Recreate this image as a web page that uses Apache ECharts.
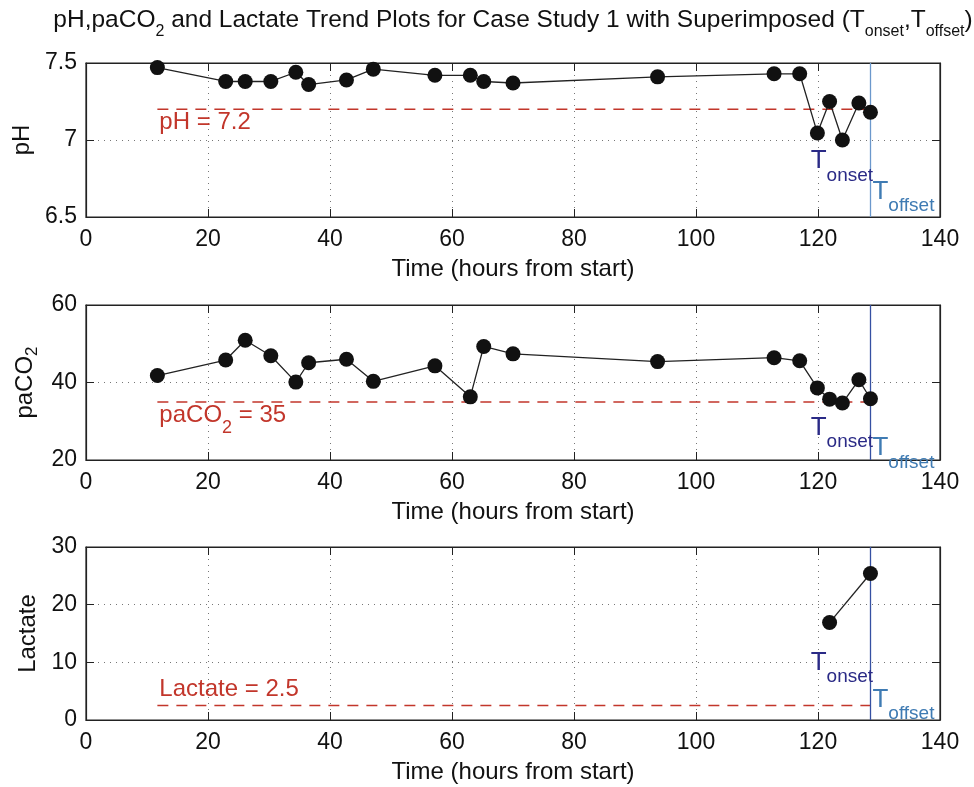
<!DOCTYPE html>
<html>
<head>
<meta charset="utf-8">
<script src="https://cdn.jsdelivr.net/npm/echarts@6/dist/echarts.min.js"></script>
<style>
html,body{margin:0;padding:0;background:#fff;}
#chart{width:974px;height:787px;}
</style>
</head>
<body>
<div id="chart"></div>
<script>
// ---- data ----
const timeHours = [11.7, 22.9, 26.1, 30.3, 34.4, 36.5, 42.7, 47.1, 57.2, 63.0, 65.2, 70.0, 93.7, 112.8, 117.0, 119.9, 121.9, 124.0, 126.7, 128.6];
const pHValues = [7.47, 7.38, 7.38, 7.38, 7.44, 7.36, 7.39, 7.46, 7.42, 7.42, 7.38, 7.37, 7.41, 7.43, 7.43, 7.045, 7.25, 7.0, 7.24, 7.18];
const paCO2Values = [41.8, 45.8, 50.9, 46.9, 40.1, 45.1, 46.0, 40.3, 44.3, 36.3, 49.3, 47.4, 45.4, 46.4, 45.6, 38.6, 35.7, 34.7, 40.7, 35.8];
const lactateTimes = [121.9, 128.6];
const lactateValues = [16.9, 25.4];
const thresholds = { pH: 7.2, paCO2: 35, lactate: 2.5 };
const tOnset = 118.8;
const tOffset = 128.6;
const xTicks = { min: 0, max: 140, interval: 20 };
const yTicksPH = { min: 6.5, max: 7.5, interval: 0.5 };
const yTicksCO2 = { min: 20, max: 60, interval: 20 };
const yTicksLac = { min: 0, max: 30, interval: 10 };

const FONT = 'Liberation Sans, Arial, Helvetica, sans-serif';
const RED = '#c2362b';
const NAVY = '#2a2a86';
const STEEL = '#3f7bb3';

const chart = echarts.init(document.getElementById('chart'));

const grids = [
  { left: 86, width: 854, top: 63, height: 154 },
  { left: 86, width: 854, top: 305, height: 155 },
  { left: 86, width: 854, top: 547, height: 173 }
];

function xAxes(gi) {
  return [
    {
      type: 'value', gridIndex: gi, position: 'bottom',
      min: xTicks.min, max: xTicks.max, interval: xTicks.interval,
      name: 'Time (hours from start)', nameLocation: 'middle', nameGap: 40,
      nameTextStyle: { fontFamily: FONT, fontSize: 24, color: '#111' },
      axisLine: { show: true, onZero: false, lineStyle: { color: '#222', width: 1.2 } },
      axisTick: { show: true, inside: true, length: 8, lineStyle: { color: '#222' } },
      axisLabel: { fontFamily: FONT, fontSize: 23, color: '#111', margin: 11 },
      splitLine: { show: true, lineStyle: { color: '#777', type: [1, 5], width: 1 } }
    },
    {
      type: 'value', gridIndex: gi, position: 'top',
      min: xTicks.min, max: xTicks.max, interval: xTicks.interval,
      axisLine: { show: true, onZero: false, lineStyle: { color: '#222', width: 1.2 } },
      axisTick: { show: true, inside: true, length: 8, lineStyle: { color: '#222' } },
      axisLabel: { show: false },
      splitLine: { show: false }
    }
  ];
}

function yAxes(gi, t, name, gap) {
  return [
    {
      type: 'value', gridIndex: gi, position: 'left',
      min: t.min, max: t.max, interval: t.interval,
      name: name, nameLocation: 'middle', nameGap: gap, nameRotate: 90,
      nameTextStyle: {
        fontFamily: FONT, fontSize: 24, color: '#111',
        rich: {
          n: { fontFamily: FONT, fontSize: 24, color: '#111' },
          s: { fontFamily: FONT, fontSize: 17, color: '#111', padding: [14, 0, 0, 0] }
        }
      },
      axisLine: { show: true, onZero: false, lineStyle: { color: '#222', width: 1.2 } },
      axisTick: { show: true, inside: true, length: 8, lineStyle: { color: '#222' } },
      axisLabel: { fontFamily: FONT, fontSize: 23, color: '#111', margin: 9 },
      splitLine: { show: true, lineStyle: { color: '#777', type: [1, 5], width: 1 } }
    },
    {
      type: 'value', gridIndex: gi, position: 'right',
      min: t.min, max: t.max, interval: t.interval,
      axisLine: { show: true, onZero: false, lineStyle: { color: '#222', width: 1.2 } },
      axisTick: { show: true, inside: true, length: 8, lineStyle: { color: '#222' } },
      axisLabel: { show: false },
      splitLine: { show: false }
    }
  ];
}

function zip(xs, ys) { return xs.map((x, i) => [x, ys[i]]); }

function tLabel(name, color) {
  return {
    show: true, position: [0, 0], align: 'left', verticalAlign: 'top',
    formatter: '{T|T}{s|' + name + '}',
    rich: {
      T: { fontFamily: FONT, fontSize: 26, lineHeight: 26, color: color, verticalAlign: 'top' },
      s: { fontFamily: FONT, fontSize: 19, lineHeight: 19, color: color, verticalAlign: 'top', padding: [18, 0, 0, 0] }
    }
  };
}

function markers(gi, onsetY, offsetY) {
  return {
    type: 'scatter', xAxisIndex: gi * 2, yAxisIndex: gi * 2, data: [], silent: true,
    markPoint: {
      symbol: 'circle', symbolSize: 0, silent: true, animation: false,
      data: [
        { coord: [tOnset, onsetY], label: tLabel('onset', NAVY) },
        { coord: [tOffset, offsetY], label: Object.assign(tLabel('offset', STEEL), { offset: [2, 0] }) }
      ]
    }
  };
}

function dataSeries(gi, xs, ys) {
  return {
    type: 'line', xAxisIndex: gi * 2, yAxisIndex: gi * 2,
    data: zip(xs, ys), symbol: 'circle', symbolSize: 15,
    itemStyle: { color: '#111' }, lineStyle: { color: '#222', width: 1.3 },
    animation: false, z: 5
  };
}

function thresholdSeries(gi, value, labelFmt, labelRich, below, lineColor) {
  return {
    type: 'line', xAxisIndex: gi * 2, yAxisIndex: gi * 2,
    data: [[timeHours[0], value], [tOffset, value]], symbol: 'none',
    lineStyle: { color: RED, width: 1.5, type: [11, 8] }, animation: false, z: 3,
    markLine: {
      silent: true, symbol: 'none', animation: false,
      lineStyle: { color: lineColor, type: 'solid', width: 1.3 },
      label: { show: false },
      data: [{ xAxis: tOffset }]
    },
    markPoint: {
      symbol: 'circle', symbolSize: 0, silent: true, animation: false,
      data: [{
        coord: [timeHours[0], value],
        label: {
          show: true, position: [0, 0], align: 'left',
          verticalAlign: below ? 'top' : 'bottom',
          offset: below ? [2, 1] : [2, -2],
          formatter: labelFmt,
          rich: labelRich
        }
      }]
    }
  };
}

const redRich = {
  n: { fontFamily: FONT, fontSize: 24, color: RED, lineHeight: 26, verticalAlign: 'top' },
  s: { fontFamily: FONT, fontSize: 18, color: RED, lineHeight: 18, verticalAlign: 'top', padding: [16, 0, 0, 0] }
};

const option = {
  backgroundColor: '#fff',
  animation: false,
  title: {
    text: '{n|pH,paCO}{s|2}{n| and Lactate Trend Plots for Case Study 1 with Superimposed (T}{s|onset}{n|,T}{s|offset}{n|)}',
    left: 508, top: 3, textAlign: 'center',
    textStyle: {
      fontWeight: 'normal',
      rich: {
        n: { fontFamily: FONT, fontSize: 24.5, fontWeight: 'normal', color: '#111', lineHeight: 26, verticalAlign: 'top' },
        s: { fontFamily: FONT, fontSize: 16, fontWeight: 'normal', color: '#111', lineHeight: 16, verticalAlign: 'top', padding: [16, 0, 0, 0] }
      }
    }
  },
  grid: grids.map(g => Object.assign({ show: true, borderColor: '#222', borderWidth: 1.2, backgroundColor: '#fff' }, g)),
  xAxis: [].concat(xAxes(0), xAxes(1), xAxes(2)),
  yAxis: [].concat(
    yAxes(0, yTicksPH, '{n|pH}', 46),
    yAxes(1, yTicksCO2, '{n|paCO}{s|2}', 44),
    yAxes(2, yTicksLac, '{n|Lactate}', 46)
  ),
  series: [
    thresholdSeries(0, thresholds.pH, '{n|pH = ' + thresholds.pH + '}', redRich, true, '#6b98cc'),
    dataSeries(0, timeHours, pHValues),
    markers(0, 6.946, 6.75),
    thresholdSeries(1, thresholds.paCO2, '{n|paCO}{s|2}{n| = ' + thresholds.paCO2 + '}', redRich, true, '#3550a2'),
    dataSeries(1, timeHours, paCO2Values),
    markers(1, 31.7, 26.5),
    thresholdSeries(2, thresholds.lactate, '{n|Lactate = ' + thresholds.lactate + '}', redRich, false, '#3550a2'),
    dataSeries(2, lactateTimes, lactateValues),
    markers(2, 12.2, 5.8)
  ]
};

chart.setOption(option);
</script>
</body>
</html>
